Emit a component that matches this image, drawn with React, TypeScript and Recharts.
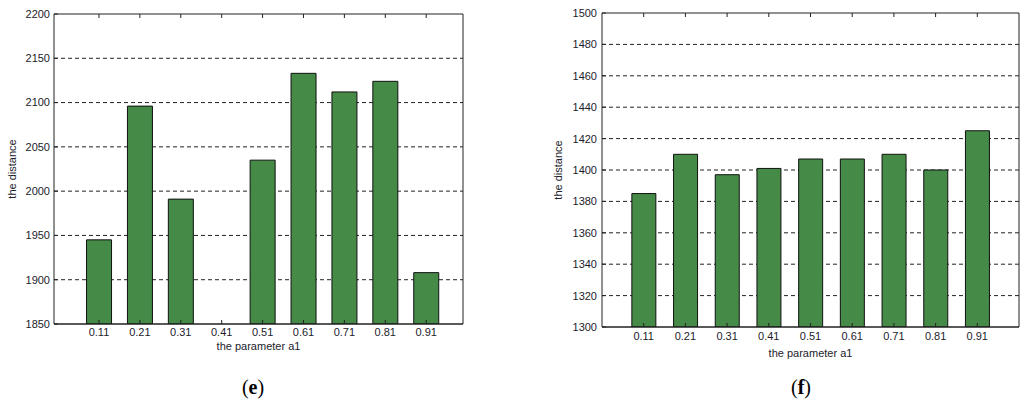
import { BarChart, Bar, XAxis, YAxis, CartesianGrid } from "recharts"

const params = [0.11, 0.21, 0.31, 0.41, 0.51, 0.61, 0.71, 0.81, 0.91]
const distanceE = [1945, 2096, 1991, 1850, 2035, 2133, 2112, 2124, 1908]
const distanceF = [1385, 1410, 1397, 1401, 1407, 1407, 1410, 1400, 1425]
const yTicksE = [1850, 1900, 1950, 2000, 2050, 2100, 2150, 2200]
const yTicksF = [1300, 1320, 1340, 1360, 1380, 1400, 1420, 1440, 1460, 1480, 1500]

const dataE = params.map((p, i) => ({ p, d: distanceE[i] }))
const dataF = params.map((p, i) => ({ p, d: distanceF[i] }))

const font = { fontFamily: "'Liberation Sans', Arial, sans-serif", fontSize: 11, fill: "#1c1c2c" }
const green = "#458a47"

type PanelProps = {
  data: { p: number; d: number }[]
  yTicks: number[]
  xDomain: [number, number]
  width: number
  margin: { top: number; right: number; left: number; bottom: number }
  yWidth: number
  yTickMargin: number
  yLabelOffset: number
  xHeight: number
  xTickMargin: number
  xLabelOffset: number
  barSize: number
}

function Panel(props: PanelProps) {
  const yDomain: [number, number] = [props.yTicks[0], props.yTicks[props.yTicks.length - 1]]
  // dashed grid only on the inner ticks; the box edges are the axis lines
  const innerTicks = props.yTicks.slice(1, -1)
  return (
    <BarChart width={props.width} height={370} data={props.data} margin={props.margin}>
      <CartesianGrid vertical={false} horizontalValues={innerTicks} stroke="#222" strokeDasharray="4 3" />
      <XAxis
        dataKey="p"
        type="number"
        domain={props.xDomain}
        ticks={params}
        allowDataOverflow
        height={props.xHeight}
        tickSize={-4}
        tickMargin={props.xTickMargin}
        tick={font}
        axisLine={{ stroke: "#222", strokeWidth: 1.5 }}
        tickLine={{ stroke: "#222" }}
        tickFormatter={(v: number) => v.toFixed(2)}
        label={{ value: "the parameter a1", position: "insideTop", offset: props.xLabelOffset, style: font }}
      />
      <XAxis
        xAxisId="top"
        dataKey="p"
        type="number"
        orientation="top"
        domain={props.xDomain}
        ticks={params}
        allowDataOverflow
        height={1}
        tickSize={-4}
        tickMargin={0}
        tickFormatter={() => ""}
        stroke="#222"
      />
      <YAxis
        domain={yDomain}
        ticks={props.yTicks}
        allowDataOverflow
        width={props.yWidth}
        tickSize={-4}
        tickMargin={props.yTickMargin}
        tick={font}
        stroke="#222"
        label={{
          value: "the distance",
          angle: -90,
          position: "insideLeft",
          offset: props.yLabelOffset,
          style: { ...font, textAnchor: "middle" },
        }}
      />
      <YAxis
        yAxisId="right"
        orientation="right"
        domain={yDomain}
        ticks={props.yTicks}
        width={1}
        tickLine={false}
        tickFormatter={() => ""}
        stroke="#222"
      />
      <Bar dataKey="d" fill={green} stroke="#111" strokeWidth={1} barSize={props.barSize} isAnimationActive={false} />
    </BarChart>
  )
}

const caption = {
  position: "absolute" as const,
  top: 374,
  width: 60,
  textAlign: "center" as const,
  fontFamily: "'Liberation Serif', 'Times New Roman', serif",
  fontSize: 20,
  lineHeight: "26px",
  color: "#000",
}

export default function App() {
  return (
    <div style={{ position: "absolute", left: 0, top: 0, width: 1024, height: 404, background: "#fff" }}>
      <div style={{ position: "absolute", left: 0, top: 0 }}>
        <Panel
          data={dataE}
          yTicks={yTicksE}
          xDomain={[0, 1]}
          width={480}
          margin={{ top: 13, right: 16, left: 0, bottom: 0 }}
          yWidth={54}
          yTickMargin={8}
          yLabelOffset={12}
          xHeight={46}
          xTickMargin={8}
          xLabelOffset={18}
          barSize={25}
        />
      </div>
      <div style={{ position: "absolute", left: 540, top: 0 }}>
        <Panel
          data={dataF}
          yTicks={yTicksF}
          xDomain={[0.01, 1.01]}
          width={484}
          margin={{ top: 12, right: 4, left: 0, bottom: 0 }}
          yWidth={62}
          yTickMargin={9}
          yLabelOffset={18}
          xHeight={43}
          xTickMargin={9}
          xLabelOffset={22}
          barSize={24}
        />
      </div>
      <div style={{ ...caption, left: 223 }}>
        (<b>e</b>)
      </div>
      <div style={{ ...caption, left: 771 }}>
        (<b>f</b>)
      </div>
    </div>
  )
}
